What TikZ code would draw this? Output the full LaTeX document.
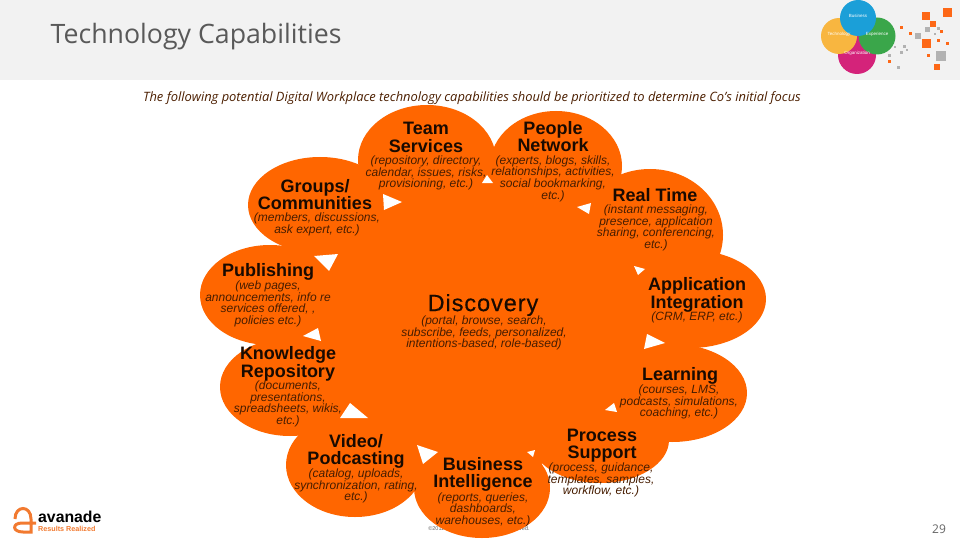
\documentclass[tikz,border=0pt]{standalone}
\usepackage{fontspec}
\setmainfont{Liberation Sans}
\newfontfamily\opensans{Open Sans}
\definecolor{orangeA}{HTML}{FF6600}
\definecolor{headbg}{HTML}{F2F2F2}
\definecolor{vblue}{HTML}{1B9FD8}
\definecolor{vyellow}{HTML}{F8B640}
\definecolor{vgreen}{HTML}{3AA64A}
\definecolor{vmag}{HTML}{D4237A}
\definecolor{logoor}{HTML}{F27A30}
\tikzset{
 petal/.style={fill=orangeA,draw=none},
 gap/.style={fill=white,draw=none},
 captitle/.style={font=\fontsize{18}{17.5}\selectfont\bfseries,align=center,inner sep=0pt,text=black!90!orangeA},
 capdesc/.style={font=\fontsize{12}{11.6}\selectfont\itshape,align=center,inner sep=0pt,text=black!72!orangeA,yshift=-2pt},
 spot/.style={fill=#1,draw=none},
 orsq/.style={fill=orange!70!red,draw=none,opacity=.9},
 grsq/.style={fill=black!30,draw=none},
 venn/.style={font=\fontsize{4.5}{5}\selectfont,text=white,inner sep=0pt}
}
\newcommand{\sqr}[4]{\fill[#1] (#2-#4/2,#3-#4/2) rectangle (#2+#4/2,#3+#4/2);}
\begin{document}
\begin{tikzpicture}[x=1pt,y=-1pt]
\useasboundingbox (0,0) rectangle (960,540);
\fill[white] (0,0) rectangle (960,540);
\fill[headbg] (0,0) rectangle (960,80);
\node[anchor=west,inner sep=0pt,text=black!65,font=\opensans\fontsize{26.7}{30}\selectfont] (title) at (50.5,37) {Technology Capabilities};
\node[inner sep=0pt,text=black!70!orangeA,font=\opensans\itshape\fontsize{12.9}{14}\selectfont] (sub) at (472,98) {The following potential Digital Workplace technology capabilities should be prioritized to determine Co’s initial focus};
% venn logo
\fill[spot=vmag] (857,55) circle (19);
\fill[spot=vyellow] (839,36) circle (18);
\fill[spot=vgreen] (877,36) circle (18.5);
\fill[spot=vblue] (858,18) circle (18);
\node[venn] (v1) at (858,16) {Business};
\node[venn] (v2) at (839,34) {Technology};
\node[venn] (v3) at (877,34) {Experience};
\node[venn] (v4) at (857,53) {Organization};
% squares
\sqr{orsq}{926}{16}{8}\sqr{orsq}{947}{13}{9}\sqr{orsq}{933}{24}{6}\sqr{orsq}{926}{44}{9}\sqr{orsq}{937}{67}{6}
\sqr{orsq}{901}{28}{3}\sqr{orsq}{910}{34}{3}\sqr{orsq}{941}{32}{3}\sqr{orsq}{938}{41}{3}\sqr{orsq}{947}{44}{3}\sqr{orsq}{928}{56}{3}\sqr{orsq}{889}{62}{3}
\sqr{grsq}{918}{36}{6}\sqr{grsq}{927}{30}{5}\sqr{grsq}{941}{56}{10}\sqr{grsq}{935}{34}{2}\sqr{grsq}{938}{29}{3}\sqr{grsq}{904}{47}{3}\sqr{grsq}{907}{50}{2}\sqr{grsq}{895}{47}{2}\sqr{grsq}{901}{53}{3}\sqr{grsq}{889}{56}{3}\sqr{grsq}{898}{68}{3}
% footer (mostly hidden)
\node[inner sep=0pt,text=black!60,font=\fontsize{5.5}{6}\selectfont] (foot) at (479,529) {©2011 Avanade Inc. All Rights Reserved.};
% petals
\fill[petal] (427,160) -- (556,166) -- (650,235) -- (690,299) -- (672,393) -- (600,440) -- (482,488) -- (355,465) -- (290,387) -- (270,295) -- (320,205) -- cycle;
\fill[petal] (427,160) ellipse (69 and 55);
\fill[petal] (556,166) ellipse (66 and 55);
\fill[petal] (320,205) ellipse (72 and 48);
\fill[petal] (650,235) ellipse (73 and 66);
\fill[petal] (270,295) ellipse (70 and 50);
\fill[petal] (690,299) ellipse (76 and 49);
\fill[petal] (290,387) ellipse (70 and 49);
\fill[petal] (672,393) ellipse (75 and 49);
\fill[petal] (355,465) ellipse (69 and 52);
\fill[petal] (600,440) ellipse (69 and 43);
\fill[petal] (482,488) ellipse (68 and 50);
% white triangles
\fill[gap] (383,194) -- (402,202) -- (384,210) -- cycle;
\fill[gap] (482,183) -- (487,175) -- (493,183) -- cycle;
\fill[gap] (577,207) -- (591,203) -- (589,214) -- cycle;
\fill[gap] (634,266) -- (645,269) -- (638,275) -- cycle;
\fill[gap] (647,334) -- (665,343) -- (644,349) -- cycle;
\fill[gap] (605,410) -- (614,403) -- (617,412) -- cycle;
\fill[gap] (527,452) -- (535,450) -- (533,457) -- cycle;
\fill[gap] (417,445) -- (438,452) -- (423,464) -- cycle;
\fill[gap] (340,418) -- (350,403) -- (368,418) -- cycle;
\fill[gap] (303,336) -- (318,328) -- (321,341) -- cycle;
\fill[gap] (314,256) -- (338,254) -- (329,271) -- cycle;
% labels
\node[captitle] (teamT) at (426,137.5) {Team\\Services};
\node[capdesc] (teamD) at (426,171) {(repository, directory,\\calendar, issues, risks,\\provisioning, etc.)};
\node[captitle] (peopleT) at (553,136.5) {People\\Network};
\node[capdesc] (peopleD) at (553,176.5) {(experts, blogs, skills,\\relationships, activities,\\social bookmarking,\\etc.)};
\node[captitle] (groupsT) at (315,194.5) {Groups/\\Communities};
\node[capdesc] (groupsD) at (317,222.5) {(members, discussions,\\ask expert, etc.)};
\node[captitle] (rtT) at (655,195) {Real Time};
\node[capdesc] (rtD) at (656,226) {(instant messaging,\\presence, application\\sharing, conferencing,\\etc.)};
\node[captitle] (appT) at (697,295) {Application\\Integration};
\node[capdesc] (appD) at (697,315) {(CRM, ERP, etc.)};
\node[captitle] (learnT) at (680,376) {Learning};
\node[capdesc] (learnD) at (679,400) {(courses, LMS,\\podcasts, simulations,\\coaching, etc.)};
\node[captitle] (procT) at (602,445.5) {Process\\Support};
\node[capdesc] (procD) at (601,478) {(process, guidance,\\templates, samples,\\workflow, etc.)};
\node[captitle] (biT) at (483,474.5) {Business\\Intelligence};
\node[capdesc] (biD) at (483,507.5) {(reports, queries,\\dashboards,\\warehouses, etc.)};
\node[captitle] (vidT) at (356,451.5) {Video/\\Podcasting};
\node[capdesc] (vidD) at (356,484) {(catalog, uploads,\\synchronization, rating,\\etc.)};
\node[captitle] (knowT) at (288,364) {Knowledge\\Repository};
\node[capdesc] (knowD) at (288,402) {(documents,\\presentations,\\spreadsheets, wikis,\\etc.)};
\node[captitle] (pubT) at (268,272) {Publishing};
\node[capdesc] (pubD) at (268,302) {(web pages,\\announcements, info re\\services offered, ,\\policies etc.)};
\node[inner sep=0pt,text=black!90!orangeA,font=\fontsize{23.5}{26}\selectfont\addfontfeature{LetterSpace=4,FakeBold=0.4}] (discT) at (483,305) {Discovery};
\node[capdesc] (discD) at (484,331) {(portal, browse, search,\\subscribe, feeds, personalized,\\intentions-based, role-based)};
% avanade logo
\draw[logoor,line width=3pt] (15,519) .. controls (15,505) and (31,505) .. (31,519) -- (31,532) -- (23,532) .. controls (12,532) and (12,523) .. (22,523) -- (36,523);
\node[anchor=west,inner sep=0pt,font=\fontsize{15.8}{16}\selectfont\bfseries] (ava) at (38,517) {avanade};
\node[anchor=west,inner sep=0pt,text=logoor,font=\fontsize{7.2}{9}\selectfont\bfseries] (res) at (38,528.5) {Results Realized};
\node[inner sep=0pt,text=black!60,font=\opensans\fontsize{12}{14}\selectfont] (page) at (939,529.5) {29};
\end{tikzpicture}
\end{document}
